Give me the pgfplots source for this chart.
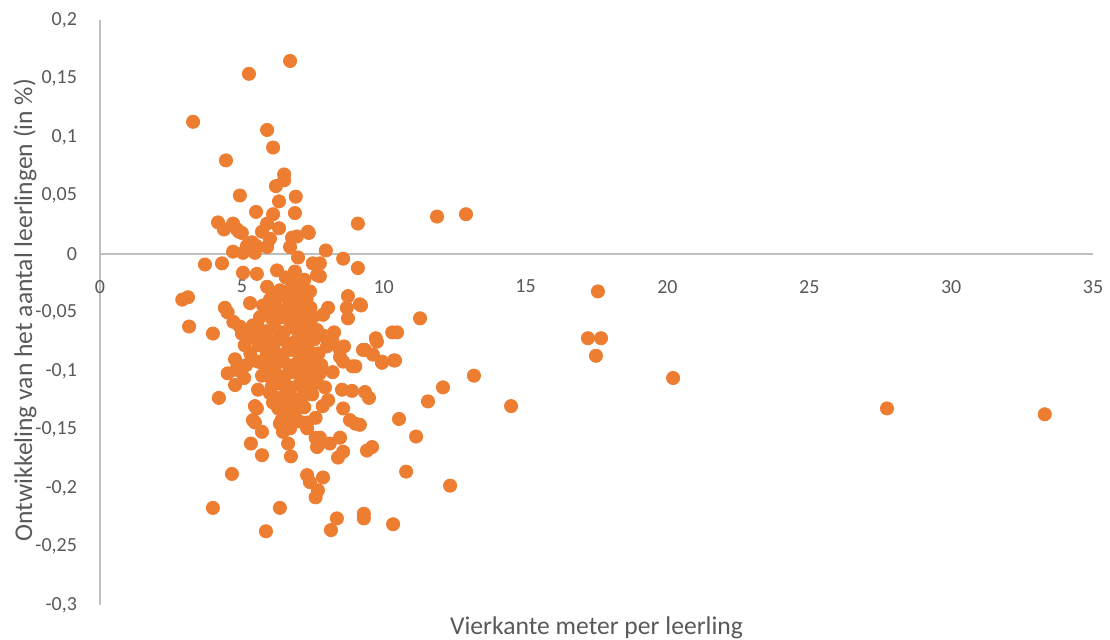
\documentclass[border=0pt]{standalone}
\usepackage{pgfplots}
\pgfplotsset{compat=1.18}
\usepackage{fontspec}
\setmainfont{Carlito}
\definecolor{dot}{HTML}{ED7D31}
\definecolor{txt}{HTML}{595959}
\definecolor{axl}{HTML}{BFBFBF}
\begin{document}
\begin{tikzpicture}
\useasboundingbox (-50pt,-17.5pt) rectangle (505pt,302.5pt);
\begin{axis}[
  at={(0,0)}, anchor=south west,
  scale only axis, width=496.5pt, height=292.5pt,
  xmin=0, xmax=35, ymin=-0.3, ymax=0.2,
  axis lines=middle,
  axis line style={axl, line width=0.7pt, -},
  hide obscured x ticks=false, hide obscured y ticks=false,
  xtick={0,5,10,15,20,25,30,35},
  ytick={-0.3,-0.25,-0.2,-0.15,-0.1,-0.05,0,0.05,0.1,0.15,0.2},
  major tick length=0pt,
  tick label style={font=\fontsize{10}{11}\selectfont, text=txt},
  /pgf/number format/.cd, fixed, precision=2, use comma, assume math mode=true, 1000 sep={},
  /pgfplots/.cd,
  xticklabel style={anchor=north, yshift=-9.5pt},
  yticklabel style={anchor=east, xshift=-8pt},
  xlabel={Vierkante meter per leerling},
  ylabel={Ontwikkeling van het aantal leerlingen (in \%)},
  xlabel style={at={(axis description cs:0.5,0)}, anchor=north, inner sep=0pt, yshift=-5.5pt, font=\fontsize{12.8}{14}\selectfont, text=txt},
  ylabel style={at={(axis description cs:-0.0755,0.504)}, anchor=center, rotate=90, inner sep=0pt, font=\fontsize{12.8}{14}\selectfont, text=txt},
  clip=false,
]
\addplot[only marks, mark=*, mark size=3.3pt, color=dot, mark options={fill=dot, draw=dot}] coordinates {
(3.28,0.113) (5.25,0.154) (6.70,0.165) (5.89,0.106) (6.10,0.091) (4.44,0.080)
(6.49,0.068) (6.49,0.063) (6.20,0.058) (6.90,0.049) (4.93,0.050) (6.31,0.045)
(5.50,0.036) (6.10,0.034) (6.87,0.035) (4.16,0.027) (4.69,0.026) (4.37,0.021)
(4.90,0.019) (7.36,0.018) (9.09,0.026) (11.88,0.032) (12.90,0.034)
(3.70,-0.009) (4.30,-0.008) (2.90,-0.039) (3.10,-0.037) (3.14,-0.062) (3.98,-0.068)
(4.19,-0.123) (4.65,-0.188) (3.98,-0.217) (6.34,-0.217) (5.85,-0.237) (8.14,-0.236)
(8.35,-0.226) (9.30,-0.222) (9.30,-0.226) (10.33,-0.231) (12.34,-0.198) (10.79,-0.186)
(11.14,-0.156) (11.56,-0.126) (12.09,-0.114) (13.18,-0.104) (14.49,-0.130) (10.54,-0.141)
(11.28,-0.055) (10.47,-0.067) (10.30,-0.067) (10.40,-0.091) (9.94,-0.092) (9.72,-0.072)
(9.34,-0.082) (9.16,-0.043) (9.09,-0.012) (8.57,-0.004) (7.96,0.003)
(17.20,-0.072) (17.66,-0.072) (17.48,-0.087) (17.55,-0.032) (20.20,-0.106)
(27.74,-0.132) (33.30,-0.137)
(5.89,0.026) (4.83,0.021) (5.00,0.018) (5.71,0.019) (6.31,0.022) (5.99,0.013)
(5.36,0.010) (5.18,0.007) (5.50,0.007) (5.89,0.006) (6.77,0.014) (6.94,0.015)
(7.33,0.019) (6.70,0.006) (4.69,0.002) (5.04,0.001) (5.46,0.001) (5.04,-0.016)
(5.53,-0.017) (6.24,-0.014) (6.98,-0.003) (6.87,-0.015) (7.50,-0.008) (7.65,-0.018)
(4.40,-0.046) (4.50,-0.050) (5.29,-0.042) (5.75,-0.044) (5.89,-0.028) (6.34,-0.031)
(6.70,-0.031) (6.94,-0.031) (7.12,-0.032) (7.40,-0.032) (4.93,-0.062) (5.39,-0.061)
(5.64,-0.054) (6.34,-0.054) (6.70,-0.048) (5.99,-0.039) (7.16,-0.042) (7.50,-0.054)
(7.65,-0.065)
(7.75,-0.008) (7.75,-0.019) (8.74,-0.036) (8.70,-0.046) (9.20,-0.044) (8.04,-0.046)
(7.86,-0.052) (8.25,-0.067) (8.74,-0.055) (8.00,-0.079) (8.46,-0.082) (8.57,-0.092)
(9.27,-0.082) (9.62,-0.086) (9.94,-0.093) (10.36,-0.091) (9.76,-0.075) (7.75,-0.102)
(8.20,-0.101) (7.93,-0.114) (8.04,-0.125) (8.53,-0.116) (8.88,-0.117) (9.34,-0.118)
(9.48,-0.123) (8.57,-0.132) (8.81,-0.142) (9.16,-0.146) (9.00,-0.145) (7.75,-0.157)
(8.10,-0.162) (8.46,-0.157) (8.39,-0.174) (8.57,-0.169) (9.41,-0.168) (9.59,-0.165)
(7.86,-0.191) (7.68,-0.202) (7.60,-0.208) (7.30,-0.189) (7.40,-0.195) (7.60,-0.157)
(7.70,-0.163) (8.90,-0.096) (9.00,-0.096) (8.20,-0.075) (8.60,-0.079) (8.46,-0.088)
(4.76,-0.090) (5.15,-0.095) (5.08,-0.106) (4.76,-0.112) (4.50,-0.102) (4.80,-0.099)
(5.57,-0.092) (5.71,-0.093) (5.71,-0.104) (5.57,-0.116) (5.53,-0.132) (5.46,-0.130)
(5.46,-0.144) (5.39,-0.142) (5.71,-0.152) (5.32,-0.162) (5.71,-0.172) (6.73,-0.173)
(6.63,-0.162) (6.45,-0.152) (6.70,-0.149) (6.34,-0.145) (6.52,-0.136) (6.80,-0.133)
(5.99,-0.119) (6.10,-0.127) (7.30,-0.144) (7.30,-0.149) (7.65,-0.159) (7.65,-0.165)
(5.10,-0.078) (5.00,-0.068) (4.70,-0.058)
(6.05,-0.037) (6.36,-0.035) (6.62,-0.038) (6.95,-0.036) (7.28,-0.039)
(5.93,-0.047) (6.21,-0.045) (6.52,-0.048) (6.83,-0.044) (7.12,-0.047) (7.42,-0.046)
(6.08,-0.056) (6.40,-0.054) (6.68,-0.057) (6.99,-0.055) (7.30,-0.058)
(5.85,-0.066) (6.18,-0.064) (6.47,-0.067) (6.79,-0.063) (7.08,-0.066) (7.38,-0.064)
(5.98,-0.075) (6.30,-0.073) (6.60,-0.076) (6.93,-0.074) (7.22,-0.075) (7.55,-0.073)
(5.88,-0.085) (6.15,-0.083) (6.45,-0.086) (6.76,-0.082) (7.05,-0.085) (7.36,-0.083)
(6.02,-0.094) (6.33,-0.092) (6.64,-0.095) (6.96,-0.093) (7.26,-0.094) (7.58,-0.091)
(5.92,-0.104) (6.20,-0.102) (6.50,-0.105) (6.82,-0.101) (7.12,-0.104) (7.44,-0.102)
(6.06,-0.113) (6.38,-0.111) (6.70,-0.114) (7.00,-0.112) (7.32,-0.113)
(6.25,-0.123) (6.55,-0.121) (6.86,-0.124) (7.15,-0.122) (7.48,-0.120)
(6.28,-0.132) (6.58,-0.130) (6.92,-0.133) (7.20,-0.131)
(6.40,-0.142) (6.72,-0.140) (7.02,-0.143)
(5.45,-0.068) (5.60,-0.078) (5.30,-0.085) (5.55,-0.062) (5.75,-0.070) (5.20,-0.072)
(7.70,-0.085) (7.80,-0.095) (7.65,-0.110) (7.85,-0.130) (7.60,-0.140) (7.90,-0.070)
(6.55,-0.020) (6.75,-0.024) (7.20,-0.022)
};
\end{axis}
\end{tikzpicture}
\end{document}
